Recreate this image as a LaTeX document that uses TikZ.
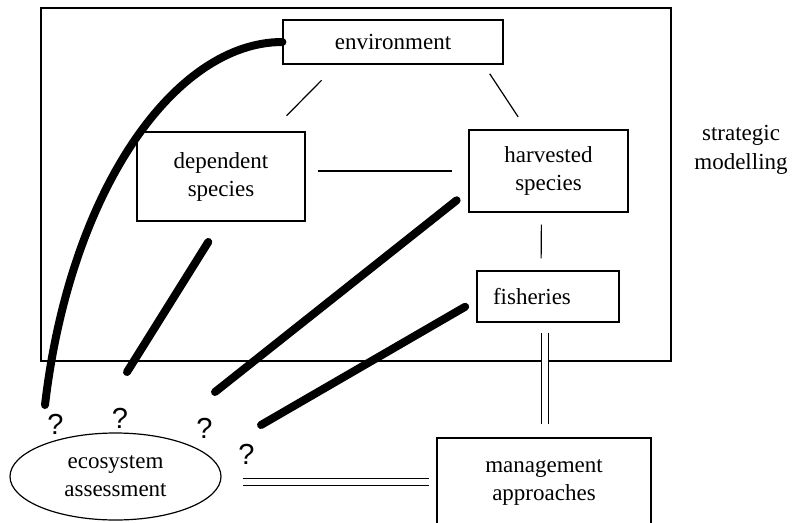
\documentclass[tikz,border=0pt]{standalone}
\usepackage{fontspec}
\setmainfont{Liberation Serif}
\newfontfamily\qfont{Liberation Sans}
\usetikzlibrary{shapes.geometric}
\tikzset{
  box/.style={draw, line width=1.2pt, align=center, inner sep=0pt, font=\fontsize{23}{28}\selectfont},
  thin link/.style={line width=1.2pt},
  heavy link/.style={line width=8pt, line cap=round},
  twin link/.style={double, line width=1pt, double distance=6pt},
  qmark/.style={inner sep=0pt, font=\qfont\fontsize{29}{29}\selectfont},
}

\begin{document}
\begin{tikzpicture}[x=1pt,y=1pt,yscale=-1,xscale=1]
    \useasboundingbox (0,0) rectangle (794,522);

    %Shape: Rectangle [strategic modelling frame]
    \draw [line width=1.5pt] (41,8) rectangle (671,361);

    % Text Node
    \node [box, minimum width=220pt, minimum height=44pt] (env) at (393,42) {environment};
    % Text Node
    \node [box, minimum width=168pt, minimum height=89pt] (dep) at (221,176.5) {dependent\\species};
    % Text Node
    \node [box, minimum width=159pt, minimum height=82pt] (har) at (548.5,171) {harvested\\species};
    % Text Node
    \node [box, minimum width=142pt, minimum height=51pt, text width=110pt, align=left] (fish) at (548,296.5) {fisheries};
    % Text Node
    \node [box, minimum width=214pt, minimum height=88pt] (mgmt) at (544,482) {management\\approaches};
    % Text Node
    \node [box, ellipse, minimum width=211pt, minimum height=87pt] (eco) at (115.5,476.5) {ecosystem\\assessment};
    % Text Node
    \node [align=center, inner sep=0pt, font=\fontsize{23}{29}\selectfont] (strat) at (741,150) {strategic\\modelling};

    % Text Node
    \node [qmark] (q1) at (55.5,424.5) {?};
    \node [qmark] (q2) at (120,418) {?};
    \node [qmark] (q3) at (204.5,428.5) {?};
    \node [qmark] (q4) at (246.5,454) {?};

    \coordinate (e1) at (45,405);
    \coordinate (e2) at (127,372);
    \coordinate (e3) at (215,392);
    \coordinate (e4) at (261,425);

    %Straight Lines [id:model links]
    \draw [thin link, shorten <=22pt, shorten >=22pt] (env.202) -- (dep.42);
    \draw [thin link, shorten <=11pt, shorten >=15pt] (env.346) -- (har.118);
    \draw [thin link, shorten <=12pt, shorten >=16pt] (dep.east |- har.west) -- (har.west);
    \draw [thin link, shorten <=12pt, shorten >=12pt] ([xshift=-7pt]har.south) -- ([xshift=-7pt]fish.north);

    %Double Lines
    \draw [twin link, shorten <=10pt, shorten >=13pt] ([xshift=-3pt]fish.south) -- ([xshift=-3pt]fish.south |- mgmt.north);
    \draw [twin link, shorten <=21pt, shorten >=7pt] (mgmt.west -| eco.east) -- (mgmt.west);

    %Heavy Lines [id:assessment links]
    \draw [heavy link] (env.west) .. controls (175,42) and (70,190) .. (e1);
    \draw [heavy link, shorten <=24pt] (dep.south) -- (e2);
    \draw [heavy link, shorten >=15pt] (e3) -- (har.194);
    \draw [heavy link, shorten >=13pt] (e4) -- (fish.183);

\end{tikzpicture}
\end{document}
